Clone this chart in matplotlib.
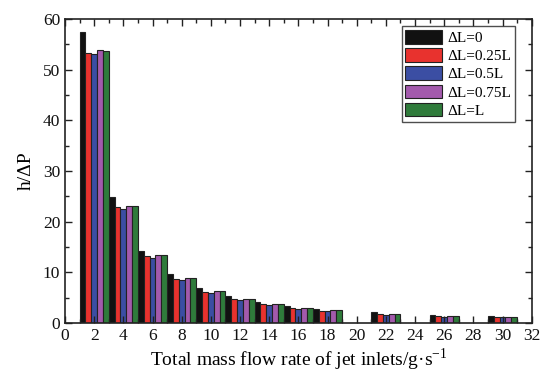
import numpy as np
import matplotlib
matplotlib.use('Agg')
from matplotlib import pyplot as plt
from matplotlib.ticker import MultipleLocator

plt.rcParams['font.family'] = ['Liberation Serif', 'DejaVu Serif']
plt.rcParams['mathtext.fontset'] = 'custom'
plt.rcParams['mathtext.rm'] = 'Liberation Serif'

# 射流入口总质量流量 (组中心)
flow = [2, 4, 6, 8, 10, 12, 14, 16, 18, 22, 26, 30]
labels = ['ΔL=0', 'ΔL=0.25L', 'ΔL=0.5L', 'ΔL=0.75L', 'ΔL=L']
dl_0 = [57.4, 24.9, 14.2, 9.6, 6.9, 5.3, 4.15, 3.3, 2.8, 2.1, 1.65, 1.4]
dl_025 = [53.3, 22.9, 13.2, 8.7, 6.1, 4.7, 3.7, 3.0, 2.4, 1.8, 1.4, 1.2]
dl_05 = [53.1, 22.6, 12.9, 8.4, 5.9, 4.5, 3.5, 2.8, 2.3, 1.6, 1.25, 1.1]
dl_075 = [53.9, 23.2, 13.4, 8.9, 6.3, 4.8, 3.7, 3.0, 2.5, 1.8, 1.4, 1.1]
dl_1 = [53.7, 23.2, 13.4, 8.9, 6.3, 4.8, 3.7, 3.0, 2.5, 1.8, 1.4, 1.1]
colors = ['#111111', '#e8322e', '#3b4ea3', '#a35aac', '#2f7b3b']

fig = plt.figure(figsize=(5.51, 3.76), dpi=100)
ax = fig.add_axes([0.118, 0.141, 0.847, 0.808])

w = 0.4
x = np.array(flow)
for i, vals in enumerate([dl_0, dl_025, dl_05, dl_075, dl_1]):
    ax.bar(x + (i - 2) * w, vals, width=w, color=colors[i],
           edgecolor='#222222', linewidth=0.8, label=labels[i])

ax.set_xlim(0, 32)
ax.set_ylim(0, 60)
ax.xaxis.set_major_locator(MultipleLocator(2))
ax.xaxis.set_minor_locator(MultipleLocator(1))
ax.yaxis.set_major_locator(MultipleLocator(10))
ax.yaxis.set_minor_locator(MultipleLocator(5))
ax.tick_params(which='both', direction='in', top=True, right=True,
               labelsize=12.5, width=1, colors='#222222', labelcolor='#111111')
ax.tick_params(which='major', length=5)
ax.tick_params(which='minor', length=3)
for s in ax.spines.values():
    s.set_linewidth(1.2)
    s.set_color('#222222')

ax.set_xlabel('Total mass flow rate of jet inlets/g·s$^{\\mathregular{-1}}$', fontsize=14, labelpad=2)
ax.set_ylabel('h/ΔP', fontsize=14, labelpad=6)

leg = ax.legend(loc='upper right', bbox_to_anchor=(0.935, 0.93),
                bbox_transform=fig.transFigure, fontsize=11, frameon=True,
                fancybox=False, handlelength=2.4, handleheight=1.0,
                handletextpad=0.35, labelspacing=0.2, borderpad=0.25,
                borderaxespad=0)
leg.get_frame().set_edgecolor('#222222')
leg.get_frame().set_linewidth(1.0)

plt.savefig('out.png', dpi=100)
